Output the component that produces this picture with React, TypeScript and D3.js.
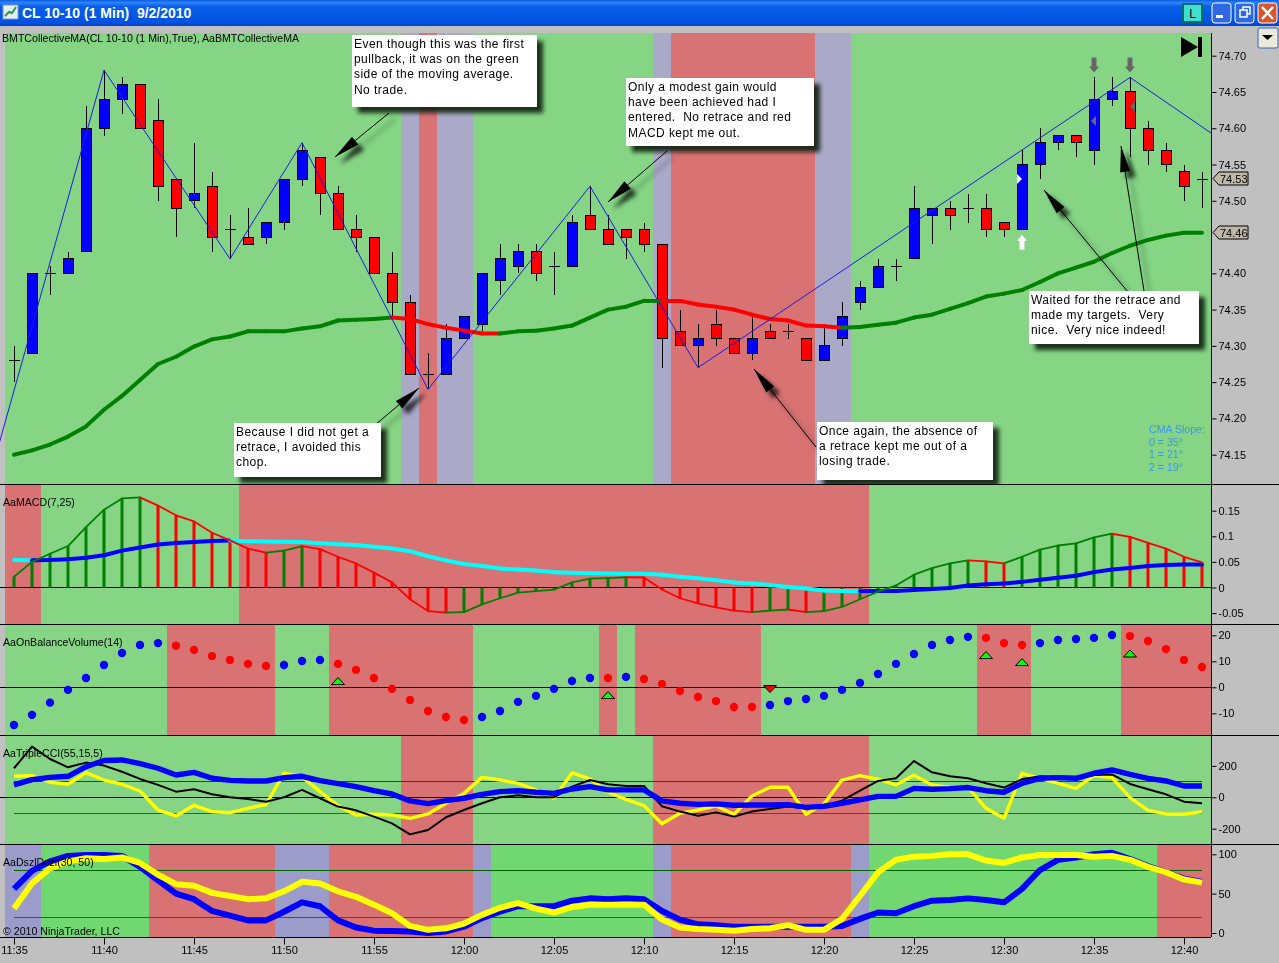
import * as d3 from 'd3';
import { useEffect, useRef } from 'react';

const WIDTH = 1279;
const HEIGHT = 963;
const RIGHT = 1211;

// one minute bars, 11:35 to 12:41
const candleOpen = [74.28,74.29,74.40,74.40,74.43,74.60,74.64,74.66,74.61,74.53,74.50,74.52,74.46,74.45,74.45,74.47,74.53,74.56,74.51,74.46,74.45,74.40,74.36,74.26,74.26,74.31,74.33,74.39,74.41,74.43,74.41,74.41,74.48,74.46,74.46,74.46,74.44,74.32,74.30,74.33,74.31,74.29,74.32,74.32,74.31,74.28,74.31,74.36,74.38,74.41,74.42,74.48,74.49,74.49,74.49,74.47,74.46,74.55,74.58,74.59,74.57,74.64,74.65,74.60,74.57,74.54,74.53];
const candleHigh = [74.30,74.40,74.41,74.43,74.63,74.68,74.67,74.66,74.64,74.53,74.58,74.54,74.48,74.49,74.47,74.53,74.58,74.56,74.52,74.48,74.45,74.43,74.37,74.29,74.33,74.34,74.40,74.44,74.44,74.44,74.43,74.48,74.52,74.48,74.46,74.47,74.44,74.35,74.33,74.35,74.31,74.34,74.33,74.33,74.31,74.33,74.36,74.39,74.42,74.42,74.52,74.49,74.50,74.51,74.51,74.47,74.57,74.60,74.59,74.59,74.67,74.67,74.67,74.61,74.58,74.55,74.54];
const candleLow = [74.25,74.29,74.37,74.40,74.43,74.59,74.62,74.60,74.50,74.45,74.49,74.43,74.42,74.44,74.44,74.46,74.52,74.48,74.46,74.43,74.40,74.34,74.26,74.24,74.26,74.31,74.32,74.37,74.40,74.39,74.37,74.41,74.46,74.44,74.42,74.43,74.27,74.30,74.27,74.30,74.29,74.28,74.31,74.31,74.28,74.28,74.30,74.35,74.38,74.39,74.42,74.44,74.46,74.47,74.45,74.45,74.46,74.53,74.57,74.56,74.55,74.63,74.56,74.55,74.54,74.50,74.49];
const candleClose = [74.28,74.40,74.40,74.42,74.60,74.64,74.66,74.60,74.52,74.49,74.51,74.45,74.46,74.44,74.47,74.53,74.57,74.51,74.46,74.45,74.40,74.36,74.26,74.26,74.31,74.34,74.40,74.42,74.43,74.40,74.41,74.47,74.46,74.44,74.45,74.44,74.31,74.30,74.31,74.31,74.29,74.31,74.31,74.32,74.28,74.30,74.34,74.38,74.41,74.41,74.49,74.49,74.48,74.49,74.46,74.46,74.55,74.58,74.59,74.58,74.64,74.65,74.60,74.57,74.55,74.52,74.53];

const collectiveMA = [74.15,74.156,74.164,74.175,74.189,74.212,74.231,74.253,74.275,74.285,74.299,74.309,74.313,74.32,74.32,74.32,74.324,74.327,74.335,74.336,74.337,74.339,74.337,74.33,74.325,74.321,74.317,74.317,74.32,74.321,74.324,74.328,74.339,74.35,74.354,74.362,74.362,74.362,74.357,74.354,74.35,74.343,74.337,74.335,74.328,74.327,74.325,74.326,74.329,74.332,74.339,74.343,74.351,74.359,74.368,74.372,74.377,74.388,74.40,74.408,74.416,74.428,74.438,74.446,74.452,74.456,74.456];
const maFallingBars = [[22, 27], [37, 46]];

const zigzagBars = [-1, 5, 12, 16, 23, 32, 38, 62, 67];
const zigzagPrices = [74.15, 74.68, 74.42, 74.58, 74.24, 74.52, 74.27, 74.67, 74.585];

const macdValues = [0.021,0.05,0.066,0.081,0.118,0.152,0.174,0.176,0.16,0.141,0.129,0.107,0.092,0.076,0.068,0.072,0.081,0.075,0.06,0.047,0.029,0.01,-0.023,-0.046,-0.049,-0.048,-0.033,-0.021,-0.01,-0.007,-0.004,0.01,0.0175,0.0185,0.02,0.0195,-0.004,-0.021,-0.031,-0.039,-0.045,-0.048,-0.045,-0.043,-0.048,-0.046,-0.038,-0.023,-0.008,0.004,0.025,0.038,0.047,0.053,0.051,0.047,0.06,0.074,0.082,0.086,0.098,0.105,0.099,0.087,0.076,0.06,0.049];
const macdSignal = [0.0535,0.053,0.0535,0.055,0.058,0.063,0.072,0.078,0.084,0.087,0.089,0.091,0.092,0.0905,0.09,0.0895,0.089,0.0865,0.0845,0.083,0.0795,0.076,0.071,0.061,0.053,0.046,0.042,0.037,0.035,0.033,0.03,0.029,0.0278,0.0275,0.027,0.0268,0.025,0.021,0.018,0.014,0.01,0.008,0.005,0.001,-0.002,-0.006,-0.0068,-0.0072,-0.007,-0.0068,-0.005,-0.003,-0.001,0.004,0.0065,0.008,0.011,0.015,0.019,0.023,0.03,0.035,0.038,0.042,0.044,0.045,0.045];

const obvValues = [-14.5,-10.6,-5.9,-1,3.6,8.6,13.2,16.3,17,16,14.4,12,10.5,9,8.2,8.6,10.1,10.5,9,6.7,3.6,-0.6,-4.9,-9.1,-11.4,-12.6,-11.4,-9.1,-5.6,-3.3,-0.6,2.4,3.6,3.6,4,3.2,1.3,-1.4,-3.7,-5.3,-7.6,-7.6,-6.8,-5.3,-4.5,-3.3,-1,1.7,5.1,9,12.8,16.3,18.2,19.4,19,17,16.3,17,18.2,18.6,19,20.1,19.7,17.8,14.7,10.5,7.8];
const obvUpBars = [18, 33, 54, 56, 62];
const obvUpValues = [2.4, -3, 12.4, 9.7, 13];
const obvDownBars = [42];
const obvDownValues = [-0.7];

const cciBlack = [185,323,244,191,221,202,163,117,79,36,51,19,0,-11,-28,0,47,-6,-59,-83,-123,-166,-236,-208,-127,-81,-38,0,13,0,0,68,110,83,72,72,-57,-91,-117,-96,-123,-91,-74,-59,-70,-55,-21,42,104,121,231,159,134,121,89,62,115,134,127,121,142,146,85,51,19,-28,-38];
const cciYellow = [134,138,96,83,157,110,83,40,-81,-119,-51,-91,-98,-70,-47,153,132,36,-53,-113,-108,-113,-134,-106,-38,25,127,110,89,47,-6,155,117,32,-13,-53,-168,-102,-81,-55,-108,8,64,64,-108,-42,110,138,115,79,140,79,62,64,-70,-134,153,121,89,57,138,125,-2,-83,-106,-108,-91];
const cciBlue = [79,113,127,134,195,234,238,214,185,142,159,121,108,104,104,125,134,106,87,68,42,21,-23,-40,-21,-6,19,36,42,32,25,53,68,47,47,47,-23,-38,-45,-42,-51,-49,-49,-47,-64,-57,-38,-17,6,6,57,51,55,62,42,32,89,121,125,121,153,174,146,121,104,72,72];

const dszBlue = [56,79,91,98,99,99,98,84,67,50,43,28,22,16,16,27,39,34,16,7,3,2.5,2,0,2,8,19,27,34,34,34,41,44,43,44,43,28,17,11,10,8,8,8,8,8,8,9,18,26,25,34,41,42,44,42,39,56,80,93,96,100,102,94,85,77,69,65];
const dszYellow = [31,63,82,91,95,94,96,89,74,62,60,51,47,43,44,53,65,63,53,46,36,25,9,4,6,12,23,32,38,31,26,33,36,36,36,36,17,7,5,4,3,5,6,10,4,4,18,47,77,93,97,98,100,100,92,89,96,99,99,99,97,98,93,84,77,68,64];

// background state by bar range: first, last, state
const mainBands: [number, number, string][] = [[0,21,'up'],[22,22,'flat'],[23,23,'down'],[24,25,'flat'],[26,35,'up'],[36,36,'flat'],[37,44,'down'],[45,46,'flat'],[47,66,'up']];
const macdBands: [number, number, string][] = [[0,1,'down'],[2,12,'up'],[13,47,'down'],[48,66,'up']];
const obvBands: [number, number, string][] = [[0,8,'up'],[9,14,'down'],[15,17,'up'],[18,25,'down'],[26,32,'up'],[33,33,'down'],[34,34,'up'],[35,41,'down'],[42,53,'up'],[54,56,'down'],[57,61,'up'],[62,66,'down']];
const cciBands: [number, number, string][] = [[0,21,'up'],[22,25,'down'],[26,35,'up'],[36,47,'down'],[48,66,'up']];
const dszBands: [number, number, string][] = [[0,1,'flat'],[2,7,'up'],[8,14,'down'],[15,17,'flat'],[18,25,'down'],[26,26,'flat'],[27,35,'up'],[36,36,'flat'],[37,46,'down'],[47,47,'flat'],[48,63,'up'],[64,66,'down']];

// 74.45 sits under the last value tag, so it has no label of its own
const priceTicks = [74.15,74.2,74.25,74.3,74.35,74.4,74.5,74.55,74.6,74.65,74.7];
const macdTicks = [-0.05, 0, 0.05, 0.1, 0.15];
const obvTicks = [-10, 0, 10, 20];
const cciTicks = [-200, 0, 200];
const dszTicks = [0, 50, 100];
const timeTickBars = [0,5,10,15,20,25,30,35,40,45,50,55,60,65];
const timeLabels = ['11:35','11:40','11:45','11:50','11:55','12:00','12:05','12:10','12:15','12:20','12:25','12:30','12:35','12:40'];

const notes = [
  { x: 352, y: 35, w: 185, h: 72, lines: ['Even though this was the first', 'pullback, it was on the green', 'side of the moving average.', 'No trade.'] },
  { x: 626, y: 78, w: 188, h: 68, lines: ['Only a modest gain would', 'have been achieved had I', 'entered.  No retrace and red', 'MACD kept me out.'] },
  { x: 234, y: 423, w: 147, h: 54, lines: ['Because I did not get a', 'retrace, I avoided this', 'chop.'] },
  { x: 817, y: 422, w: 176, h: 58, lines: ['Once again, the absence of', 'a retrace kept me out of a', 'losing trade.'] },
  { x: 1029, y: 291, w: 170, h: 53, lines: ['Waited for the retrace and', 'made my targets.  Very', 'nice.  Very nice indeed!'] },
];
const pointers = [
  { from: [389, 113], tip: [335, 157] },
  { from: [667, 151], tip: [608, 202] },
  { from: [375, 425], tip: [419, 388] },
  { from: [816, 447], tip: [754, 369] },
  { from: [1128, 292], tip: [1044, 190] },
  { from: [1144, 291], tip: [1121, 146] },
];
const slopeLines = ['CMA Slope:', '0 = 35°', '1 = 21°', '2 = 19°'];

const GREEN = '#85d585';
const RED = '#d97373';
const PURPLE = '#aaaac8';
const FONT = '"Liberation Sans", Arial, sans-serif';

export default function App() {
  const svgRef = useRef<SVGSVGElement>(null);

  useEffect(() => {
    const svg = d3.select(svgRef.current);
    svg.selectAll('*').remove();

    const x = d3.scaleLinear().domain([0, 66]).range([14, 1202]);
    const step = x(1) - x(0);
    const priceY = d3.scaleLinear().domain([74.15, 74.7]).range([454.7, 55.7]);
    const macdY = d3.scaleLinear().domain([-0.05, 0.15]).range([613.1, 510.7]);
    const obvY = d3.scaleLinear().domain([-10, 20]).range([713.3, 635.3]);
    const cciY = d3.scaleLinear().domain([-200, 200]).range([828.7, 765.9]);
    const dszY = d3.scaleLinear().domain([0, 100]).range([933, 854.3]);

    const defs = svg.append('defs');
    defs.append('filter').attr('id', 'soft').attr('x', '-30%').attr('y', '-30%').attr('width', '160%').attr('height', '160%')
      .append('feGaussianBlur').attr('stdDeviation', 2.2);
    const barGrad = defs.append('linearGradient').attr('id', 'titleBar').attr('x1', 0).attr('x2', 0).attr('y1', 0).attr('y2', 1);
    [['0', '#0a5ce6'], ['0.1', '#2f83f5'], ['0.25', '#0a5fe8'], ['0.7', '#0056e2'], ['0.92', '#0050dc'], ['1', '#0a3cc0']].forEach(([o, c]) =>
      barGrad.append('stop').attr('offset', o).attr('stop-color', c));
    [['clipMain', 33, 451], ['clipMacd', 485, 139], ['clipObv', 625, 110], ['clipCci', 736, 108], ['clipDsz', 845, 92]].forEach(([id, y, h]) =>
      defs.append('clipPath').attr('id', String(id)).append('rect').attr('x', 0).attr('y', y).attr('width', RIGHT).attr('height', h));

    // window chrome
    svg.append('rect').attr('width', WIDTH).attr('height', HEIGHT).attr('fill', '#c0c0c0');
    svg.append('rect').attr('width', WIDTH).attr('height', 26).attr('fill', 'url(#titleBar)');
    svg.append('rect').attr('x', 3).attr('y', 5).attr('width', 15).attr('height', 14).attr('fill', '#e8eef8').attr('stroke', '#8098c0');
    svg.append('path').attr('d', 'M5,16L9,12L12,13L16,7').attr('fill', 'none').attr('stroke', '#20a040').attr('stroke-width', 2);
    svg.append('text').attr('x', 22).attr('y', 18).text('CL 10-10 (1 Min)  9/2/2010')
      .attr('fill', '#fff').attr('font-family', FONT).attr('font-weight', 'bold').attr('font-size', 14).style('white-space', 'pre');
    svg.append('rect').attr('x', 1183).attr('y', 4).attr('width', 19).attr('height', 18).attr('fill', '#40e0d0').attr('stroke', '#0b6b70').attr('stroke-width', 2);
    svg.append('text').attr('x', 1192.5).attr('y', 18).attr('text-anchor', 'middle').attr('font-family', FONT).attr('font-size', 12).text('L');
    [[1212, '#2f68e0'], [1235, '#2f68e0'], [1258, '#d8552f']].forEach(([bx, c]) =>
      svg.append('rect').attr('x', bx).attr('y', 3).attr('width', 19).attr('height', 20).attr('rx', 3).attr('fill', c).attr('stroke', '#fff'));
    svg.append('rect').attr('x', 1216).attr('y', 15).attr('width', 7).attr('height', 3).attr('fill', '#fff');
    svg.append('path').attr('d', 'M1240,10h7v7h-7zM1243,10v-3h7v7h-3').attr('fill', 'none').attr('stroke', '#fff').attr('stroke-width', 1.5);
    svg.append('path').attr('d', 'M1262,7L1273,19M1273,7L1262,19').attr('stroke', '#fff').attr('stroke-width', 2.5);
    svg.append('rect').attr('x', 1258).attr('y', 28).attr('width', 20).attr('height', 20).attr('rx', 2).attr('fill', '#ece9d8').attr('stroke', '#2f68c0');
    svg.append('path').attr('d', 'M1262,35h11l-5.5,5z').attr('fill', '#000');

    const bandColor = (state: string, panel = 'plain') =>
      state === 'up' ? (panel === 'dsz' ? '#71d771' : GREEN) : state === 'down' ? RED : panel === 'dsz' ? '#9c9ccb' : PURPLE;
    const drawBands = (g: any, bands: [number, number, string][], top: number, bottom: number, panel?: string) => {
      g.append('g').selectAll('rect').data(bands).join('rect')
        .attr('x', (d: any) => x(d[0]) - step / 2)
        .attr('width', (d: any) => (d[1] - d[0] + 1) * step)
        .attr('y', top).attr('height', bottom - top)
        .attr('fill', (d: any) => bandColor(d[2], panel));
    };
    const label = (txt: string, lx: number, ly: number, fill = '#000') =>
      svg.append('text').attr('x', lx).attr('y', ly).text(txt).attr('font-family', FONT).attr('font-size', 10.6).attr('fill', fill);
    const panelLine = (g: any, values: number[], yScale: any, color: string, width: number) =>
      g.append('path').datum(values)
        .attr('d', d3.line<number>().x((_, i) => x(i)).y((d) => yScale(d)))
        .attr('fill', 'none').attr('stroke', color).attr('stroke-width', width).attr('stroke-linejoin', 'round');
    const segments = (g: any, values: number[], yScale: any, colorAt: (i: number) => string, width: number) =>
      g.append('g').selectAll('line').data(values.slice(1)).join('line')
        .attr('x1', (_: any, i: number) => x(i)).attr('x2', (_: any, i: number) => x(i + 1))
        .attr('y1', (_: any, i: number) => yScale(values[i])).attr('y2', (d: number) => yScale(d))
        .attr('stroke', (_: any, i: number) => colorAt(i + 1)).attr('stroke-width', width).attr('stroke-linecap', 'round');
    const hLine = (g: any, yPos: number, x1: number, x2: number, color: string) =>
      g.append('line').attr('x1', x1).attr('x2', x2).attr('y1', yPos).attr('y2', yPos).attr('stroke', color).attr('shape-rendering', 'crispEdges');

    // price panel
    const main = svg.append('g').attr('clip-path', 'url(#clipMain)');
    drawBands(main, mainBands, 33, 484);
    const bars = main.append('g');
    candleOpen.forEach((open, i) => {
      const close = candleClose[i];
      const cx = x(i);
      bars.append('line').attr('x1', cx).attr('x2', cx).attr('y1', priceY(candleHigh[i])).attr('y2', priceY(candleLow[i])).attr('stroke', '#000').attr('shape-rendering', 'crispEdges');
      if (open === close) {
        bars.append('line').attr('x1', cx - 5.5).attr('x2', cx + 5.5).attr('y1', priceY(open)).attr('y2', priceY(open)).attr('stroke', '#000').attr('shape-rendering', 'crispEdges');
      } else {
        bars.append('rect').attr('x', cx - 5).attr('width', 10)
          .attr('y', priceY(Math.max(open, close))).attr('height', Math.abs(priceY(open) - priceY(close)))
          .attr('fill', close > open ? '#0000ff' : '#ff0000').attr('stroke', '#000').attr('shape-rendering', 'crispEdges');
      }
    });
    const maFalling = (i: number) => maFallingBars.some(([a, b]) => i >= a && i <= b);
    segments(main, collectiveMA, priceY, (i) => (maFalling(i) ? '#ff0000' : '#008000'), 4);
    main.append('path').datum(zigzagBars)
      .attr('d', d3.line<number>().x((d) => x(d)).y((_, i) => priceY(zigzagPrices[i])))
      .attr('fill', 'none').attr('stroke', '#1a1ae6').attr('stroke-width', 1);

    // entry and target markers
    const arrowDown = (bar: number, tipY: number, fill: string) =>
      main.append('path').attr('d', `M${x(bar) - 2.5},${tipY - 15}h5v9h2.5l-5,6l-5,-6h2.5z`).attr('fill', fill);
    arrowDown(60, priceY(74.67) - 5, '#666');
    arrowDown(62, priceY(74.67) - 5, '#666');
    main.append('path').attr('d', `M${x(56) - 2.5},${priceY(74.46) + 20}h5v-9h2.5l-5,-6l-5,6h2.5z`).attr('fill', '#fff');
    main.append('path').attr('d', `M${x(60) + 2},${priceY(74.61) - 5}v10l-5,-5z`).attr('fill', '#666');
    main.append('path').attr('d', `M${x(62) + 5},${priceY(74.63) - 5}v10l-5,-5z`).attr('fill', '#666');
    main.append('path').attr('d', `M${x(56) - 5},${priceY(74.53) - 5}v10l5,-5z`).attr('fill', '#fff');
    main.append('path').attr('d', 'M1181,37L1198,47L1181,57z').attr('fill', '#000');
    main.append('rect').attr('x', 1198).attr('y', 37).attr('width', 4).attr('height', 20).attr('fill', '#000');

    // callouts
    const wedge = (from: number[], tip: number[]) => {
      const dx = from[0] - tip[0];
      const dy = from[1] - tip[1];
      const len = Math.hypot(dx, dy);
      const ux = dx / len;
      const uy = dy / len;
      const bx = tip[0] + ux * 26;
      const by = tip[1] + uy * 26;
      const nx = -uy * 5;
      const ny = ux * 5;
      return `M${tip[0]},${tip[1]}L${bx + nx},${by + ny}L${bx - nx},${by - ny}Z`;
    };
    const shadows = main.append('g').attr('filter', 'url(#soft)').attr('transform', 'translate(6,6)');
    pointers.forEach((p) => {
      shadows.append('path').attr('d', wedge(p.from, p.tip)).attr('fill', '#000').attr('opacity', 0.7);
      shadows.append('line').attr('x1', p.from[0]).attr('y1', p.from[1]).attr('x2', p.tip[0]).attr('y2', p.tip[1]).attr('stroke', '#000').attr('stroke-width', 5).attr('opacity', 0.12);
    });
    notes.forEach((n) => shadows.append('rect').attr('x', n.x).attr('y', n.y).attr('width', n.w).attr('height', n.h).attr('fill', '#102010').attr('opacity', 0.9));
    pointers.forEach((p) => {
      main.append('line').attr('x1', p.from[0]).attr('y1', p.from[1]).attr('x2', p.tip[0]).attr('y2', p.tip[1]).attr('stroke', '#000');
      main.append('path').attr('d', wedge(p.from, p.tip)).attr('fill', '#000');
    });
    notes.forEach((n) => {
      main.append('rect').attr('x', n.x).attr('y', n.y).attr('width', n.w).attr('height', n.h).attr('fill', '#fff');
      n.lines.forEach((ln, i) =>
        main.append('text').attr('x', n.x + 2).attr('y', n.y + 12.6 + i * 15.4).text(ln)
          .attr('font-family', FONT).attr('font-size', 12).attr('letter-spacing', 0.45).style('white-space', 'pre'));
    });
    slopeLines.forEach((ln, i) => {
      main.append('text').attr('x', 1149).attr('y', 433 + i * 12.6).text(ln).attr('font-family', FONT).attr('font-size', 10.6).attr('fill', '#3a96f0');
    });

    // MACD panel
    const macd = svg.append('g').attr('clip-path', 'url(#clipMacd)');
    drawBands(macd, macdBands, 485, 624);
    hLine(macd, macdY(0), 0, RIGHT, '#000');
    const rising = (vals: number[], i: number) => i === 0 || vals[i] >= vals[i - 1];
    macd.append('g').selectAll('line').data(macdValues).join('line')
      .attr('x1', (_, i) => x(i)).attr('x2', (_, i) => x(i))
      .attr('y1', macdY(0)).attr('y2', (d) => macdY(d))
      .attr('stroke', (_, i) => (rising(macdValues, i) ? '#008000' : '#ff0000')).attr('stroke-width', 3);
    segments(macd, macdSignal, macdY, (i) => (rising(macdSignal, i) ? '#0000ff' : '#00ffff'), 4);
    segments(macd, macdValues, macdY, (i) => (rising(macdValues, i) ? '#008000' : '#ff0000'), 1.8);

    // on balance volume panel
    const obv = svg.append('g').attr('clip-path', 'url(#clipObv)');
    drawBands(obv, obvBands, 625, 735);
    hLine(obv, obvY(0), 0, RIGHT, '#000');
    const obvState = (i: number) => obvBands.find((b) => i >= b[0] && i <= b[1])?.[2];
    obv.append('g').selectAll('circle').data(obvValues).join('circle')
      .attr('cx', (_, i) => x(i)).attr('cy', (d) => obvY(d)).attr('r', 4.2)
      .attr('fill', (_, i) => (obvState(i) === 'up' ? '#0000ff' : '#ff0000'));
    obv.append('g').selectAll('path').data(obvUpBars).join('path')
      .attr('d', (d, i) => `M${x(d) - 6.5},${obvY(obvUpValues[i]) + 3.5}h13l-6.5,-7z`)
      .attr('fill', '#00ff00').attr('stroke', '#000');
    obv.append('g').selectAll('path').data(obvDownBars).join('path')
      .attr('d', (d, i) => `M${x(d) - 6.5},${obvY(obvDownValues[i]) - 3.5}h13l-6.5,7z`)
      .attr('fill', '#ff0000').attr('stroke', '#000');

    // triple CCI panel
    const cci = svg.append('g').attr('clip-path', 'url(#clipCci)');
    drawBands(cci, cciBands, 736, 844);
    hLine(cci, cciY(0), 0, RIGHT, '#000');
    hLine(cci, cciY(100), x(0), x(66), '#006400');
    hLine(cci, cciY(-100), x(0), x(66), '#ff0000');
    panelLine(cci, cciYellow, cciY, '#ffff00', 3.4);
    panelLine(cci, cciBlack, cciY, '#000', 2);
    panelLine(cci, cciBlue, cciY, '#0000ff', 5.4);

    // DSZ panel
    const dsz = svg.append('g').attr('clip-path', 'url(#clipDsz)');
    drawBands(dsz, dszBands, 845, 937, 'dsz');
    hLine(dsz, dszY(80), x(0), x(66), '#006400');
    hLine(dsz, dszY(20), x(0), x(66), '#ff0000');
    panelLine(dsz, dszBlue, dszY, '#0000ff', 6);
    panelLine(dsz, dszYellow, dszY, '#ffff00', 6);

    // separators and axes
    [484, 624, 735, 844].forEach((yPos) => hLine(svg, yPos + 0.5, 0, WIDTH, '#000'));
    hLine(svg, 937.5, 0, RIGHT, '#000');
    svg.append('line').attr('x1', RIGHT + 0.5).attr('x2', RIGHT + 0.5).attr('y1', 33).attr('y2', 937).attr('stroke', '#000');

    const styleAxis = (g: any) => {
      g.select('.domain').remove();
      g.selectAll('.tick line').attr('stroke', '#000');
      g.selectAll('.tick text').attr('fill', '#000').attr('font-family', FONT).attr('font-size', 11);
    };
    const rightAxis = (scale: any, ticks: number[], fmt: (d: any) => string) =>
      svg.append('g').attr('transform', `translate(${RIGHT + 0.5},0)`)
        .call(d3.axisRight(scale).tickValues(ticks).tickFormat(fmt).tickSize(5).tickPadding(2)).call(styleAxis);
    rightAxis(priceY, priceTicks, (d) => d3.format('.2f')(d));
    rightAxis(macdY, macdTicks, (d) => String(d));
    rightAxis(obvY, obvTicks, (d) => String(d));
    rightAxis(cciY, cciTicks, (d) => String(d));
    rightAxis(dszY, dszTicks, (d) => String(d));
    svg.append('g').attr('transform', 'translate(0,937.5)')
      .call(d3.axisBottom(x).tickValues(timeTickBars).tickFormat((_, i) => timeLabels[i]).tickSize(7).tickPadding(2)).call(styleAxis);

    // last value tags
    [candleClose[66], collectiveMA[66]].forEach((v) => {
      const ty = Math.round(priceY(v)) - 0.5;
      svg.append('path').attr('d', `M1213,${ty}l6,-6.5h29v13h-29z`).attr('fill', '#bfb8a8').attr('stroke', '#000');
      svg.append('text').attr('x', 1220).attr('y', ty + 4).text(d3.format('.2f')(v)).attr('font-family', FONT).attr('font-size', 11);
    });

    label('BMTCollectiveMA(CL 10-10 (1 Min),True), AaBMTCollectiveMA', 2, 42);
    label('AaMACD(7,25)', 3, 506);
    label('AaOnBalanceVolume(14)', 3, 646);
    label('AaTripleCCI(55,15,5)', 3, 757);
    label('AaDszlDszl(30, 50)', 3, 866);
    label('© 2010 NinjaTrader, LLC', 3, 935);
  }, []);

  return <svg ref={svgRef} width={WIDTH} height={HEIGHT} style={{ position: 'absolute', top: 0, left: 0 }} />;
}
